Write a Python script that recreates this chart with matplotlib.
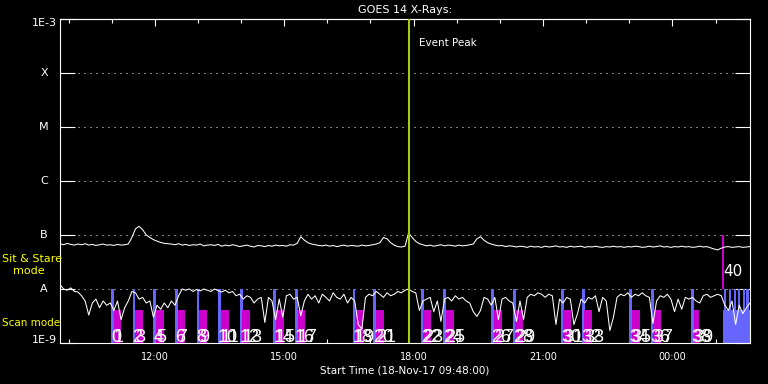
import numpy as np
import matplotlib
matplotlib.use("Agg")
import matplotlib.pyplot as plt
from matplotlib import transforms as mtransforms
from matplotlib.ticker import NullLocator, FixedLocator

# ---------------- data ----------------
start_hour = 9.8          # 09:48 on 18-Nov-17
end_hour = 25.8           # 01:48 next day

# GOES 14 long channel (1-8 A), units of 1e-8 W/m^2, 5-min samples
long_flux_e8 = [
    6.9, 6.6, 7.0, 6.7, 6.5, 6.8, 6.6, 6.9, 6.5, 6.7, 6.4, 6.6, 6.8, 6.5, 6.6, 6.4, 6.7, 6.5, 6.6, 6.8,
    9.0, 13.0, 14.5, 12.5, 10.0, 9.0, 8.2, 7.7, 7.3, 7.0, 6.9,
    6.8, 6.6, 6.9, 6.5, 6.7, 6.4, 6.6, 6.5, 6.8, 6.3, 6.5, 6.6, 6.4, 6.7, 6.2, 6.5, 6.3, 6.6, 6.4, 6.1,
    6.3, 6.5, 6.2, 6.0, 6.4, 6.3, 6.1, 6.4, 6.2, 6.5, 6.3, 6.4, 6.2, 6.6,
    6.5, 7.0, 9.3, 8.0, 7.2, 6.8,
    6.6, 6.4, 6.3, 6.5, 6.2, 6.4, 6.1, 6.3, 6.5, 6.2, 6.4, 6.3, 6.2, 6.5, 6.3, 6.4, 6.6, 6.8,
    7.2, 9.0, 8.5, 7.2, 6.5, 6.1, 6.0, 6.2,
    10.9, 9.0, 7.6, 6.9,
    6.6, 6.3, 6.5, 6.2, 6.4, 6.6, 6.3, 6.5, 6.4, 6.2, 6.5, 6.3, 6.4, 6.6,
    6.8, 8.5, 9.3, 8.0, 7.2, 6.8,
    6.5, 6.3, 6.4, 6.1, 6.3, 6.2, 6.0, 6.2, 6.1, 5.9,
    6.2, 6.0, 6.1, 5.9, 6.2, 6.0, 6.1, 6.3, 6.0, 6.1,
    5.9, 6.2, 6.0, 6.1, 6.2, 5.9, 6.1, 6.0, 6.2, 6.0,
    5.9, 6.1, 6.0, 6.2, 6.0, 6.1, 5.9, 6.1, 6.0, 6.2,
    6.1, 5.9, 6.0, 6.2, 6.0, 6.1, 6.3, 6.0, 6.1, 5.9,
    6.1, 6.0, 6.2, 6.0, 6.1, 5.9, 6.0, 6.2, 6.0, 6.1,
    5.8, 5.5, 5.3, 5.7, 6.0, 6.1, 5.9, 6.0, 6.1, 5.9,
    6.0, 6.1,
]

# GOES 14 short channel (0.5-4 A), units of 1e-9 W/m^2, 5-min samples
short_flux_e9 = [
    12, 10, 9.5, 10.5, 9, 8.8,
    7.5, 6, 3.3, 5.5, 6.5, 4.5, 6, 5,
    5.5, 4, 6, 2.7, 4.5,
    6, 9, 8.5,
    6.5, 7, 5.5, 6, 3,
    5, 4.2, 5.5, 4.5, 6, 5, 7.5,
    10, 9.5, 10, 9, 9.8, 9.2, 10, 9.5, 9, 10, 9.3, 8.8, 9.5, 8.5, 9,
    7.5, 8, 6.5, 7.5, 7, 5.5, 6.5, 7,
    2.4, 7, 6, 2.7, 6.5,
    3, 7.5, 8, 6.5, 7, 3.2, 6,
    8, 6.5, 7.5, 5.5, 8, 7, 6, 8.5, 7, 6.5, 8, 5.5,
    7, 6, 2.2, 1.8, 7,
    8, 7.5, 9, 8, 7, 8.5, 7.5, 8, 9, 8.5,
    9.5, 10,
    9, 8.5, 4, 6,
    6.5, 7, 3.8, 6, 2.5, 6.5, 7,
    6, 7.5, 6.5, 7, 6, 5.5, 3.8, 3.1,
    4, 7, 6.5, 5, 7, 2.7,
    6.5, 7, 6, 5.5, 2.5, 6,
    2.7, 7, 8, 7.5, 8.5, 8, 7, 8,
    7.5, 2.2, 6.5, 5.5, 7, 6.5,
    2.2, 3.5, 6.5, 5.5, 7, 6.5,
    7.5, 3.8, 7, 6, 1.7, 3, 7, 8,
    7.5, 8.5, 7, 8, 7.5, 8.5, 7.5, 7,
    2.3, 6, 7.5, 7, 8, 6.5,
    3.8, 6.5, 4.2, 7, 6.5, 7, 6, 5.5,
    7.5, 8, 7, 7.5, 8, 7.5,
    5, 4, 6, 2.2, 5, 3.5, 4.5, 5.5,
]

level_labels = ["1E-9", "A", "B", "C", "M", "X", "1E-3"]
level_values = [1e-9, 1e-8, 1e-7, 1e-6, 1e-5, 1e-4, 1e-3]

hour_ticks = [12, 15, 18, 21, 24]
hour_tick_labels = ["12:00", "15:00", "18:00", "21:00", "00:00"]

# scan-mode rasters: start of each pair (blue scan, then magenta scan)
scan_starts = ["10:59", "11:29", "11:58", "12:28", "12:58", "13:28", "13:58",
               "14:45", "15:15", "16:35", "17:04", "18:10", "18:41", "19:48",
               "20:18", "21:25", "21:54", "23:00", "23:30", "00:26"]
blue_dur_min = 4.0
mag_offset_min = 3.5
mag_durs_min = [11] * 19 + [8]
blue_level = 1e-8
mag_level = 4e-9

# sit & stare block at the end
sit_start = "01:11"
sit_scan_starts = ["01:12", "01:19", "01:26", "01:31", "01:38", "01:43"]
sit_scan_dur_min = 3.0
sit_label = "40"

event_peak = "17:54"


def to_hours(s):
    h, m = (int(v) for v in s.split(":"))
    hh = h + m / 60.0
    if hh < start_hour:
        hh += 24
    return hh


# ---------------- figure ----------------
BLUE = "#6666ff"
MAG = "#cc00cc"
YEL = "#ffff00"
EVT = "#a0d010"

fig = plt.figure(figsize=(7.68, 3.84), dpi=100, facecolor="black")
ax = fig.add_axes([60 / 768, 1 - 343 / 384, 690 / 768, 324 / 384])
ax.set_facecolor("black")
ax.set_yscale("log")
ax.set_ylim(1e-9, 1e-3)
ax.set_xlim(start_hour, end_hour)
for sp in ax.spines.values():
    sp.set_color("white")
    sp.set_linewidth(0.8)

t_long = np.linspace(start_hour, end_hour, len(long_flux_e8))
t_short = np.linspace(start_hour, end_hour, len(short_flux_e9))

# dotted level lines
for v in level_values[1:-1]:
    ax.axhline(v, color="white", lw=0.72, ls=(0, (1, 5)), zorder=1)

# scan bars
scan_h = [to_hours(s) for s in scan_starts]
for k, (t0, md) in enumerate(zip(scan_h, mag_durs_min)):
    ax.bar(t0, blue_level - 1e-9, bottom=1e-9, width=blue_dur_min / 60, align="edge",
           color=BLUE, lw=0, zorder=2)
    tm = t0 + mag_offset_min / 60
    ax.bar(tm, mag_level - 1e-9, bottom=1e-9, width=md / 60, align="edge",
           color=MAG, lw=0, zorder=2)

# sit & stare block
ts = to_hours(sit_start)
ax.bar(ts, mag_level - 1e-9, bottom=1e-9, width=end_hour - ts, align="edge",
       color=BLUE, lw=0, zorder=2)
for s in sit_scan_starts:
    ax.bar(to_hours(s), blue_level - 1e-9, bottom=1e-9, width=sit_scan_dur_min / 60,
           align="edge", color=BLUE, lw=0, zorder=2)
ax.vlines(ts, 1e-8, 1e-7, color=MAG, lw=1.5, zorder=3)
ax.text(ts, 2.07e-8, sit_label, color="white", fontsize=11, ha="left", va="center", zorder=5)

# curves
ax.plot(t_long, np.array(long_flux_e8) * 1e-8, color="white", lw=0.75, zorder=4)
ax.plot(t_short, np.array(short_flux_e9) * 1e-9, color="white", lw=0.75, zorder=4)

# scan labels
lab_tr = mtransforms.blended_transform_factory(ax.transData, ax.transAxes) + \
    mtransforms.ScaledTranslation(0, 1.5 / 100, fig.dpi_scale_trans)
lab_font = dict(family=["Liberation Sans Narrow", "Liberation Sans", "DejaVu Sans"],
                fontsize=13, color="white")
for k, t0 in enumerate(scan_h):
    ax.text(t0, 0, str(2 * k), transform=lab_tr, ha="left", va="baseline", zorder=5, **lab_font)
    ax.text(t0 + mag_offset_min / 60, 0, str(2 * k + 1), transform=lab_tr, ha="left",
            va="baseline", zorder=5, **lab_font)

# event peak
te = to_hours(event_peak)
ax.axvline(te, color=EVT, lw=1.5, zorder=6)
ax.annotate("Event Peak", xy=(te, 3.6e-4), xytext=(7, 0), textcoords="offset points",
            color="white", fontsize=7.5, ha="left", va="center")

# y ticks
ax.set_yticks(level_values)
ax.yaxis.set_minor_locator(NullLocator())
ax.tick_params(axis="y", which="major", direction="in", length=10.8, width=0.8,
               colors="white", left=True, right=True, labelleft=False)
ytr = mtransforms.blended_transform_factory(fig.transFigure, ax.transData)
for lab, v in zip(level_labels, level_values):
    dy = 0
    if lab == "1E-3":
        dy = -4
    elif lab == "1E-9":
        dy = 3
    ax.text(44 / 768, v, lab, transform=ytr + mtransforms.ScaledTranslation(0, dy / 100, fig.dpi_scale_trans),
            color="white", fontsize=8, ha="center", va="center")

# x ticks (bottom)
ax.set_xticks(hour_ticks)
ax.set_xticklabels(hour_tick_labels)
minor_bottom = [h for h in range(10, 26) if h % 3 != 0]
ax.xaxis.set_minor_locator(FixedLocator(minor_bottom))
ax.tick_params(axis="x", which="major", length=0, pad=6.3, colors="white", labelsize=7)
ax.tick_params(axis="x", which="minor", direction="in", length=2.9, width=0.8, colors="white")

# top ticks
sec = ax.secondary_xaxis("top")
sec.set_xticks(hour_ticks)
sec.xaxis.set_minor_locator(FixedLocator(list(range(10, 26))))
sec.tick_params(which="major", direction="in", length=5, width=0.8, colors="white", labeltop=False)
sec.tick_params(which="minor", direction="in", length=2.9, width=0.8, colors="white")
sec.spines["top"].set_color("white")
sec.spines["top"].set_linewidth(0.8)

ax.set_title("GOES 14 X-Rays:", color="white", fontsize=8, pad=4)
ax.set_xlabel("Start Time (18-Nov-17 09:48:00)", color="white", fontsize=7.5, labelpad=3)

# mode labels
ax.text(2 / 768, 3.6e-8, "Sit & Stare", transform=ytr, color=YEL, fontsize=8, ha="left", va="center")
ax.text(13 / 768, 2.15e-8, "mode", transform=ytr, color=YEL, fontsize=8, ha="left", va="center")
ax.text(2 / 768, 2.35e-9, "Scan mode", transform=ytr, color=YEL, fontsize=7.5, ha="left", va="center")

fig.savefig("out.png", dpi=100, facecolor="black")
